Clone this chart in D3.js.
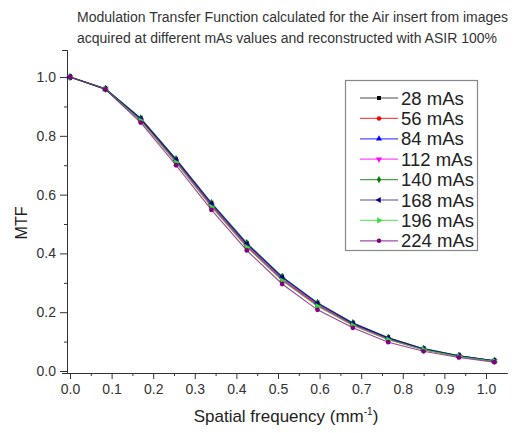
<!DOCTYPE html>
<html>
<head>
<meta charset="utf-8">
<script src="https://cdn.jsdelivr.net/npm/d3@7"></script>
<style>
  body { margin: 0; background: #fff; }
  svg { font-family: Arial, "Liberation Sans", sans-serif; }
  .axis path, .axis line { stroke: #333; stroke-width: 1; }
  .axis text { fill: #333; font-size: 14px; }
</style>
</head>
<body>
<svg id="chart" width="514" height="433"></svg>
<script>
// spatial frequency (mm^-1) of each sample
var freq = [0, 0.085, 0.17, 0.255, 0.34, 0.425, 0.51, 0.595, 0.68, 0.765, 0.85, 0.935, 1.02];

var mtf28  = [1.0, 0.959, 0.853, 0.712, 0.562, 0.425, 0.311, 0.224, 0.157, 0.108, 0.073, 0.050, 0.034];
var mtf56  = [1.0, 0.959, 0.852, 0.710, 0.560, 0.423, 0.309, 0.222, 0.156, 0.107, 0.072, 0.050, 0.033];
var mtf84  = [1.0, 0.960, 0.859, 0.720, 0.571, 0.434, 0.320, 0.231, 0.163, 0.113, 0.076, 0.052, 0.035];
var mtf112 = [1.0, 0.959, 0.854, 0.713, 0.564, 0.427, 0.313, 0.226, 0.158, 0.109, 0.073, 0.051, 0.034];
var mtf140 = [1.0, 0.960, 0.860, 0.721, 0.572, 0.436, 0.321, 0.232, 0.163, 0.113, 0.076, 0.052, 0.035];
var mtf168 = [1.0, 0.960, 0.858, 0.718, 0.569, 0.432, 0.318, 0.230, 0.162, 0.112, 0.075, 0.052, 0.035];
var mtf196 = [1.0, 0.959, 0.851, 0.709, 0.558, 0.421, 0.307, 0.220, 0.155, 0.106, 0.072, 0.049, 0.033];
var mtf224 = [1.0, 0.958, 0.845, 0.700, 0.548, 0.410, 0.296, 0.208, 0.147, 0.098, 0.067, 0.046, 0.030];

var labels = ['28 mAs', '56 mAs', '84 mAs', '112 mAs', '140 mAs', '168 mAs', '196 mAs', '224 mAs'];
var colors = ['#000000', '#ff0000', '#0000ff', '#ff00ff', '#008000', '#000080', '#33dd33', '#800080'];
var symbols = [d3.symbolSquare, d3.symbolCircle, d3.symbolTriangle, d3.symbolTriangle,
               d3.symbolDiamond, d3.symbolTriangle, d3.symbolTriangle, d3.symbolCircle];
var rotations = [0, 0, 0, 180, 0, 270, 90, 0];

var xTicks = [0, 0.1, 0.2, 0.3, 0.4, 0.5, 0.6, 0.7, 0.8, 0.9, 1.0];
var yTicks = [0, 0.2, 0.4, 0.6, 0.8, 1.0];

var series = [mtf28, mtf56, mtf84, mtf112, mtf140, mtf168, mtf196, mtf224].map(function(v, i) {
  return { name: labels[i], color: colors[i], symbol: symbols[i], rot: rotations[i],
           values: v.map(function(y, j) { return { x: freq[j], y: y }; }) };
});

var svg = d3.select('#chart');

var x = d3.scaleLinear().domain([-0.0072, 1.0505]).range([67, 507]);
var y = d3.scaleLinear().domain([-0.0068, 1.092]).range([373, 50]);

// minor ticks halfway between majors
var xMinor = d3.range(0.05, 1.05, 0.1);
var yMinor = d3.range(0.1, 1.05, 0.2);

svg.append('g')
  .attr('class', 'axis')
  .attr('transform', 'translate(0,373)')
  .call(d3.axisBottom(x).tickValues(xMinor).tickSize(3).tickSizeOuter(0).tickFormat(''));
svg.append('g')
  .attr('class', 'axis')
  .attr('transform', 'translate(0,373)')
  .call(d3.axisBottom(x).tickValues(xTicks).tickSize(6).tickSizeOuter(0).tickPadding(5)
    .tickFormat(d3.format('.1f')));

svg.append('g')
  .attr('class', 'axis')
  .attr('transform', 'translate(67,0)')
  .call(d3.axisLeft(y).tickValues(yMinor).tickSize(3).tickSizeOuter(0).tickFormat(''));
svg.append('g')
  .attr('class', 'axis')
  .attr('transform', 'translate(67,0)')
  .call(d3.axisLeft(y).tickValues(yTicks).tickSize(7).tickSizeOuter(5).tickPadding(4)
    .tickFormat(d3.format('.1f')));

// titles
svg.append('text')
  .attr('x', 21).attr('y', 223)
  .attr('transform', 'rotate(-90,21,223)')
  .attr('text-anchor', 'middle')
  .attr('dy', '0.35em')
  .style('font-size', '16px').style('fill', '#222')
  .text('MTF');

var xt = svg.append('text')
  .attr('x', 286).attr('y', 422)
  .attr('text-anchor', 'middle')
  .style('font-size', '17px').style('fill', '#222');
xt.append('tspan').text('Spatial frequency (mm');
xt.append('tspan').attr('dy', -7).style('font-size', '10px').text('-1');
xt.append('tspan').attr('dy', 7).text(')');

svg.append('text')
  .attr('x', 77).attr('y', 22)
  .style('font-size', '14px').style('fill', '#333')
  .text('Modulation Transfer Function calculated for the Air insert from images');
svg.append('text')
  .attr('x', 77).attr('y', 43)
  .style('font-size', '14px').style('fill', '#333')
  .text('acquired at different mAs values and reconstructed with ASIR 100%');

// curves
var line = d3.line().x(function(d) { return x(d.x); }).y(function(d) { return y(d.y); });

var g = svg.append('g').selectAll('g.series').data(series).join('g').attr('class', 'series');

g.append('path')
  .attr('d', function(d) { return line(d.values); })
  .attr('fill', 'none')
  .attr('stroke', function(d) { return d.color; })
  .attr('stroke-opacity', 0.75)
  .attr('stroke-width', 1.1);

g.each(function(s) {
  d3.select(this).selectAll('path.pt').data(s.values).join('path')
    .attr('class', 'pt')
    .attr('transform', function(d) { return 'translate(' + x(d.x) + ',' + y(d.y) + ') rotate(' + s.rot + ')'; })
    .attr('d', d3.symbol().type(s.symbol).size(18))
    .attr('fill', s.color);
});

// legend
var lg = svg.append('g');
lg.append('rect')
  .attr('x', 345.5).attr('y', 80.5).attr('width', 132).attr('height', 170)
  .attr('fill', '#fff').attr('stroke', '#888').attr('stroke-width', 1.2);

var row = lg.selectAll('g.row').data(series).join('g')
  .attr('class', 'row')
  .attr('transform', function(d, i) { return 'translate(0,' + (98 + i * 20.4) + ')'; });

row.append('line')
  .attr('x1', 360).attr('x2', 398)
  .attr('stroke', function(d) { return d.color; })
  .attr('stroke-opacity', 0.7)
  .attr('stroke-width', 1.2);
row.append('path')
  .attr('transform', function(d) { return 'translate(379,0) rotate(' + d.rot + ')'; })
  .attr('d', function(d) { return d3.symbol().type(d.symbol).size(16)(); })
  .attr('fill', function(d) { return d.color; });
row.append('text')
  .attr('x', 401).attr('dy', '0.36em')
  .style('font-size', '18.5px').style('fill', '#222')
  .text(function(d) { return d.name; });
</script>
</body>
</html>
